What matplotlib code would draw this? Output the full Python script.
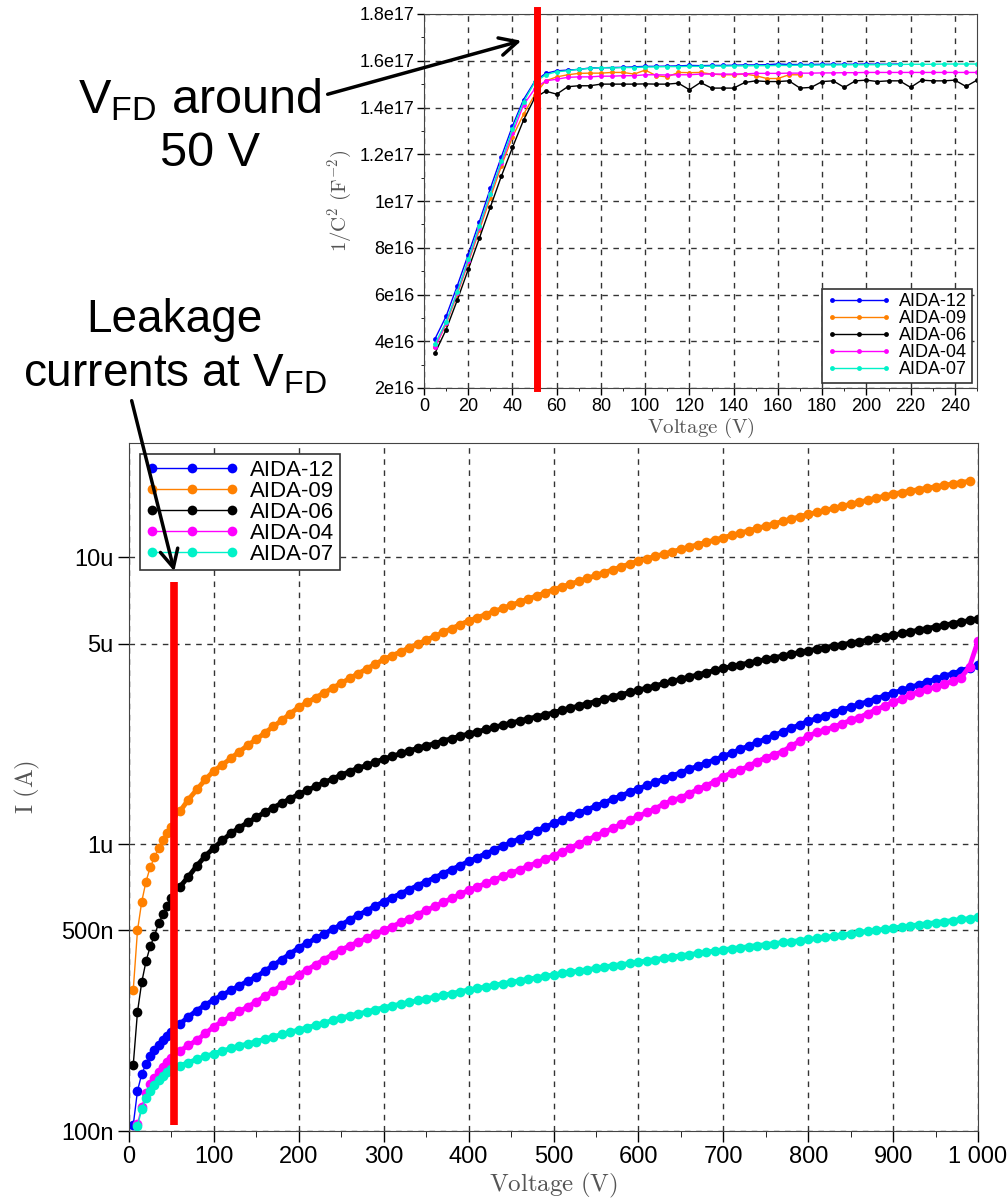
import numpy as np
import matplotlib
matplotlib.use('Agg')
import matplotlib.pyplot as plt
from matplotlib.ticker import NullLocator, MultipleLocator

plt.rcParams['font.family'] = ['Liberation Sans', 'DejaVu Sans']
plt.rcParams['mathtext.fontset'] = 'custom'
plt.rcParams['mathtext.rm'] = 'Liberation Sans'
plt.rcParams['mathtext.it'] = 'Liberation Sans:italic'

# sensor names and colours
names = ['AIDA-12', 'AIDA-09', 'AIDA-06', 'AIDA-04', 'AIDA-07']
colors = ['#0000ff', '#ff8000', '#000000', '#ff00ff', '#00f2c8']

# ---- C-V data: 1/C^2 in units of 1e16 F^-2, 5 V steps ----
cv_volt = list(range(5, 251, 5))
cv_aida12 = [4.11, 5.07, 6.36, 7.71, 9.11, 10.54, 11.9, 13.21, 14.34, 15.11,
             15.46, 15.57, 15.6, 15.63, 15.69, 15.7, 15.71, 15.72, 15.74, 15.76,
             15.76, 15.77, 15.78, 15.8, 15.79, 15.8, 15.8, 15.81, 15.82, 15.82,
             15.83, 15.86, 15.84, 15.84, 15.84, 15.85, 15.85, 15.85, 15.85, 15.86,
             15.85, 15.85, 15.86]
cv_aida09 = [3.74, 4.74, 6.0, 7.36, 8.74, 10.14, 11.5, 12.74, 13.71, 14.53,
             15.14, 15.31, 15.4, 15.46, 15.47, 15.47, 15.5, 15.5, 15.43, 15.6,
             15.36, 15.31, 15.5, 15.49, 15.5, 15.43, 15.4, 15.4, 15.43, 15.36,
             15.24, 15.24, 15.4, 15.4]
cv_aida06 = [3.5, 4.5, 5.75, 7.07, 8.4, 9.74, 11.07, 12.29, 13.46, 14.4,
             14.7, 14.57, 14.89, 14.93, 14.93, 15.0, 15.0, 15.0, 15.0, 15.01,
             15.0, 15.0, 15.04, 14.76, 15.07, 14.83, 14.83, 14.83, 15.07, 15.14,
             15.11, 15.11, 15.14, 14.83, 14.86, 15.11, 15.14, 14.86, 15.14, 15.17,
             15.11, 15.14, 15.14, 14.86, 15.17, 15.14, 15.14, 15.17, 14.9, 15.17]
cv_aida04 = [3.74, 4.79, 6.07, 7.43, 8.86, 10.29, 11.64, 12.89, 14.11, 14.79,
             15.14, 15.21, 15.29, 15.31, 15.31, 15.34, 15.34, 15.36, 15.36, 15.4,
             15.4, 15.39, 15.4, 15.4, 15.43, 15.43, 15.43, 15.43, 15.44, 15.46,
             15.46, 15.46, 15.47, 15.47, 15.47, 15.48, 15.48, 15.49, 15.49, 15.5,
             15.5, 15.5, 15.5, 15.5, 15.5, 15.5, 15.5, 15.5, 15.5, 15.5]
cv_aida07 = [3.89, 4.83, 6.11, 7.5, 8.93, 10.31, 11.71, 13.07, 14.24, 15.07,
             15.4, 15.53, 15.57, 15.64, 15.67, 15.71, 15.69, 15.71, 15.71, 15.73,
             15.74, 15.75, 15.75, 15.76, 15.76, 15.77, 15.77, 15.78, 15.78, 15.79,
             15.79, 15.8, 15.8, 15.81, 15.81, 15.82, 15.82, 15.83, 15.83, 15.83,
             15.83, 15.84, 15.84, 15.85, 15.85, 15.85, 15.86, 15.86, 15.86, 15.86]

# ---- I-V data: leakage current in uA ----
iv_volt = [5, 10, 15, 20, 25, 30, 35, 40, 45, 50] + list(range(60, 1001, 10))
iv_aida12 = [0.105, 0.138, 0.158, 0.171, 0.183, 0.192, 0.200, 0.207, 0.214, 0.221,
             0.236, 0.250, 0.263, 0.275, 0.287,
             0.298, 0.309, 0.321, 0.333, 0.345, 0.361, 0.378, 0.396, 0.415, 0.435,
             0.452, 0.469, 0.487, 0.505, 0.524, 0.544, 0.565, 0.586, 0.608, 0.630,
             0.651, 0.672, 0.694, 0.717, 0.740, 0.764, 0.789, 0.815, 0.842, 0.870,
             0.897, 0.925, 0.953, 0.983, 1.013, 1.045, 1.077, 1.111, 1.145, 1.180,
             1.213, 1.248, 1.283, 1.319, 1.357, 1.395, 1.435, 1.475, 1.517, 1.560,
             1.601, 1.643, 1.686, 1.730, 1.775, 1.822, 1.870, 1.919, 1.969, 2.020,
             2.078, 2.138, 2.199, 2.262, 2.327, 2.394, 2.463, 2.533, 2.606, 2.680,
             2.741, 2.804, 2.868, 2.934, 3.001, 3.070, 3.140, 3.212, 3.286, 3.360,
             3.436, 3.514, 3.593, 3.674, 3.757, 3.842, 3.929, 4.018, 4.109, 4.200]
iv_aida09 = [0.31, 0.50, 0.63, 0.74, 0.83, 0.90, 0.97, 1.03, 1.09, 1.15,
             1.30, 1.43, 1.55, 1.68, 1.80,
             1.89, 1.99, 2.10, 2.21, 2.32, 2.44, 2.57, 2.70, 2.85, 3.00,
             3.12, 3.24, 3.37, 3.50, 3.64, 3.78, 3.93, 4.08, 4.24, 4.40,
             4.54, 4.68, 4.83, 4.98, 5.14, 5.30, 5.47, 5.64, 5.82, 6.00,
             6.15, 6.31, 6.47, 6.63, 6.80, 6.97, 7.15, 7.33, 7.51, 7.70,
             7.88, 8.06, 8.25, 8.44, 8.64, 8.84, 9.05, 9.26, 9.48, 9.70,
             9.88, 10.07, 10.26, 10.45, 10.65, 10.85, 11.06, 11.27, 11.48, 11.70,
             11.92, 12.14, 12.37, 12.60, 12.84, 13.08, 13.33, 13.58, 13.83, 14.10,
             14.33, 14.57, 14.80, 15.05, 15.30, 15.55, 15.80, 16.06, 16.33, 16.60,
             16.80, 17.00, 17.20, 17.40, 17.60, 17.80, 18.00, 18.20, 18.40]
iv_aida06 = [0.17, 0.26, 0.33, 0.39, 0.44, 0.48, 0.53, 0.57, 0.61, 0.65,
             0.71, 0.77, 0.84, 0.91, 0.97,
             1.03, 1.09, 1.14, 1.19, 1.24, 1.29, 1.34, 1.39, 1.44, 1.49,
             1.54, 1.59, 1.64, 1.69, 1.74, 1.79, 1.84, 1.88, 1.93, 1.98,
             2.02, 2.07, 2.11, 2.16, 2.20, 2.24, 2.29, 2.33, 2.38, 2.42,
             2.46, 2.51, 2.55, 2.60, 2.64, 2.69, 2.73, 2.78, 2.82, 2.87,
             2.93, 2.98, 3.03, 3.09, 3.14, 3.20, 3.26, 3.32, 3.38, 3.44,
             3.50, 3.56, 3.63, 3.69, 3.76, 3.82, 3.89, 3.96, 4.03, 4.10,
             4.16, 4.22, 4.28, 4.34, 4.40, 4.46, 4.53, 4.59, 4.66, 4.72,
             4.78, 4.84, 4.90, 4.96, 5.02, 5.08, 5.14, 5.21, 5.28, 5.35,
             5.42, 5.49, 5.57, 5.64, 5.72, 5.79, 5.87, 5.94, 6.02, 6.10]
iv_aida04 = [0.095, 0.106, 0.121, 0.136, 0.146, 0.153, 0.160, 0.167, 0.174, 0.180,
             0.190, 0.199, 0.207, 0.219, 0.231,
             0.241, 0.251, 0.261, 0.271, 0.282, 0.295, 0.308, 0.322, 0.336, 0.350,
             0.365, 0.380, 0.396, 0.412, 0.428, 0.442, 0.456, 0.470, 0.485, 0.500,
             0.516, 0.533, 0.550, 0.568, 0.587, 0.606, 0.626, 0.647, 0.668, 0.690,
             0.709, 0.729, 0.750, 0.771, 0.792, 0.814, 0.837, 0.861, 0.885, 0.910,
             0.939, 0.970, 1.001, 1.033, 1.067, 1.101, 1.137, 1.173, 1.211, 1.250,
             1.290, 1.330, 1.380, 1.420, 1.450, 1.500, 1.550, 1.600, 1.650, 1.720,
             1.770, 1.810, 1.870, 1.940, 2.000, 2.050, 2.100, 2.200, 2.280, 2.380,
             2.450, 2.500, 2.560, 2.630, 2.700, 2.760, 2.850, 2.940, 3.030, 3.120,
             3.200, 3.300, 3.400, 3.480, 3.520, 3.600, 3.700, 3.800, 4.150, 5.100]
iv_aida07 = [0.090, 0.104, 0.119, 0.130, 0.138, 0.145, 0.150, 0.155, 0.160, 0.164,
             0.169, 0.173, 0.178, 0.182, 0.186,
             0.190, 0.194, 0.198, 0.201, 0.205, 0.209, 0.213, 0.217, 0.221, 0.225,
             0.229, 0.234, 0.238, 0.243, 0.248, 0.252, 0.256, 0.260, 0.265, 0.269,
             0.273, 0.277, 0.281, 0.285, 0.289, 0.293, 0.297, 0.301, 0.306, 0.310,
             0.314, 0.318, 0.322, 0.326, 0.330, 0.334, 0.338, 0.342, 0.346, 0.350,
             0.354, 0.358, 0.361, 0.365, 0.369, 0.373, 0.377, 0.380, 0.384, 0.388,
             0.392, 0.396, 0.400, 0.404, 0.408, 0.412, 0.416, 0.420, 0.424, 0.428,
             0.432, 0.435, 0.439, 0.443, 0.446, 0.450, 0.454, 0.457, 0.461, 0.465,
             0.469, 0.473, 0.478, 0.482, 0.487, 0.492, 0.496, 0.501, 0.505, 0.510,
             0.514, 0.519, 0.523, 0.528, 0.532, 0.537, 0.541, 0.546, 0.550, 0.555]

# full depletion voltage markers
vfd_cv = 51
vfd_iv = 53

# tick labels
cv_yticks = [2e16, 4e16, 6e16, 8e16, 1e17, 1.2e17, 1.4e17, 1.6e17, 1.8e17]
cv_ylabels = ['2e16', '4e16', '6e16', '8e16', '1e17', '1.2e17', '1.4e17', '1.6e17', '1.8e17']
iv_yticks = [1e-7, 5e-7, 1e-6, 5e-6, 1e-5]
iv_ylabels = ['100n', '500n', '1u', '5u', '10u']
iv_xticks = list(range(0, 1001, 100))
iv_xlabels = ['0', '100', '200', '300', '400', '500', '600', '700', '800', '900', '1 000']

cv_series = [cv_aida12, cv_aida09, cv_aida06, cv_aida04, cv_aida07]
iv_series = [iv_aida12, iv_aida09, iv_aida06, iv_aida04, iv_aida07]

W, H = 1008, 1198
fig = plt.figure(figsize=(W / 100, H / 100), dpi=100)

grid_kw = dict(color='#333333', linestyle=(0, (4, 4)), linewidth=1.0)
label_kw = dict(color='#555555', math_fontfamily='cm')

# ---------------- top: C-V ----------------
ax1 = fig.add_axes([424 / W, 1 - 388 / H, 553 / W, 374 / H])
for vals, name, c in zip(cv_series, names, colors):
    ax1.plot(cv_volt[:len(vals)], np.array(vals) * 1e16, color=c, lw=1.0,
             marker='o', ms=3.5, mew=0, label=name)
ax1.axvline(vfd_cv, ymin=0, ymax=1.01, color='#ff0000', lw=5, clip_on=False, zorder=5)
ax1.set_xlim(0, 250)
ax1.set_ylim(2e16, 1.8e17)
ax1.set_xticks(range(0, 241, 20))
ax1.set_yticks(cv_yticks)
ax1.set_yticklabels(cv_ylabels)
ax1.xaxis.set_minor_locator(MultipleLocator(10))
ax1.yaxis.set_minor_locator(MultipleLocator(1e16))
ax1.tick_params(labelsize=13, length=5, width=1, direction='out', pad=2)
ax1.tick_params(which='minor', length=2.5)
ax1.grid(True, which='major', **grid_kw)
ax1.set_xlabel(r'$\mathrm{Voltage\ (V)}$', fontsize=15, labelpad=1, **label_kw)
ax1.set_ylabel(r'$\mathrm{1/C^2\ (F^{-2})}$', fontsize=15, labelpad=4, **label_kw)
for s in ax1.spines.values():
    s.set_color('#444444')
leg1 = ax1.legend(loc='lower right', fontsize=13, numpoints=3, handlelength=3.6,
                  labelspacing=0.0, borderpad=0.25, handletextpad=0.4,
                  fancybox=False, framealpha=1, edgecolor='#333333', borderaxespad=0.3)
leg1.get_frame().set_linewidth(1.2)

# ---------------- bottom: I-V ----------------
ax2 = fig.add_axes([129 / W, 1 - 1131 / H, 849 / W, 688 / H])
for vals, name, c in zip(iv_series, names, colors):
    v = iv_volt[:len(vals)]
    y = np.array(vals) * 1e-6
    # dense part of the sweep reads as a solid band
    ax2.plot(v[10:], y[10:], color=c, lw=3.5, solid_capstyle='round')
    ax2.plot(v, y, color=c, lw=1.0, marker='o', ms=7, mew=0, label=name)
ax2.vlines(vfd_iv, 1.05e-7, 8.2e-6, color='#ff0000', lw=5.5, zorder=5)
ax2.set_yscale('log')
ax2.set_xlim(0, 1000)
ax2.set_ylim(1e-7, 2.5e-5)
ax2.set_xticks(iv_xticks)
ax2.set_xticklabels(iv_xlabels)
ax2.set_yticks(iv_yticks)
ax2.set_yticklabels(iv_ylabels)
ax2.yaxis.set_minor_locator(NullLocator())
ax2.xaxis.set_minor_locator(MultipleLocator(50))
ax2.tick_params(labelsize=17, length=8, width=1, direction='out', pad=3)
ax2.tick_params(which='minor', length=4)
ax2.grid(True, which='major', **grid_kw)
ax2.set_xlabel(r'$\mathrm{Voltage\ (V)}$', fontsize=18, labelpad=2, **label_kw)
ax2.set_ylabel(r'$\mathrm{I\ (A)}$', fontsize=18, labelpad=14, **label_kw)
for s in ax2.spines.values():
    s.set_color('#444444')
leg2 = ax2.legend(loc='upper left', fontsize=16, numpoints=3, handlelength=4.2,
                  labelspacing=0.0, borderpad=0.25, handletextpad=0.5,
                  fancybox=False, framealpha=1, edgecolor='#333333', borderaxespad=0.5)
leg2.get_frame().set_linewidth(1.2)

# ---------------- annotations ----------------
fig.text(200 / W, 1 - 100 / H, 'V$_{\\rm FD}$ around', fontsize=35,
         ha='center', va='center')
fig.text(210 / W, 1 - 153 / H, '50 V', fontsize=35, ha='center', va='center')
fig.text(174 / W, 1 - 320 / H, 'Leakage', fontsize=33, ha='center', va='center')
fig.text(175 / W, 1 - 374 / H, 'currents at V$_{\\rm FD}$', fontsize=33,
         ha='center', va='center')

arrow_kw = dict(arrowstyle='->', lw=2.5, color='black', mutation_scale=32)
fig.add_artist(matplotlib.patches.FancyArrowPatch(
    (325 / W, 1 - 95 / H), (524 / W, 1 - 40 / H), transform=fig.transFigure, **arrow_kw))
fig.add_artist(matplotlib.patches.FancyArrowPatch(
    (131 / W, 1 - 398 / H), (175 / W, 1 - 574 / H), transform=fig.transFigure, **arrow_kw))

fig.savefig('out.png', dpi=100)
